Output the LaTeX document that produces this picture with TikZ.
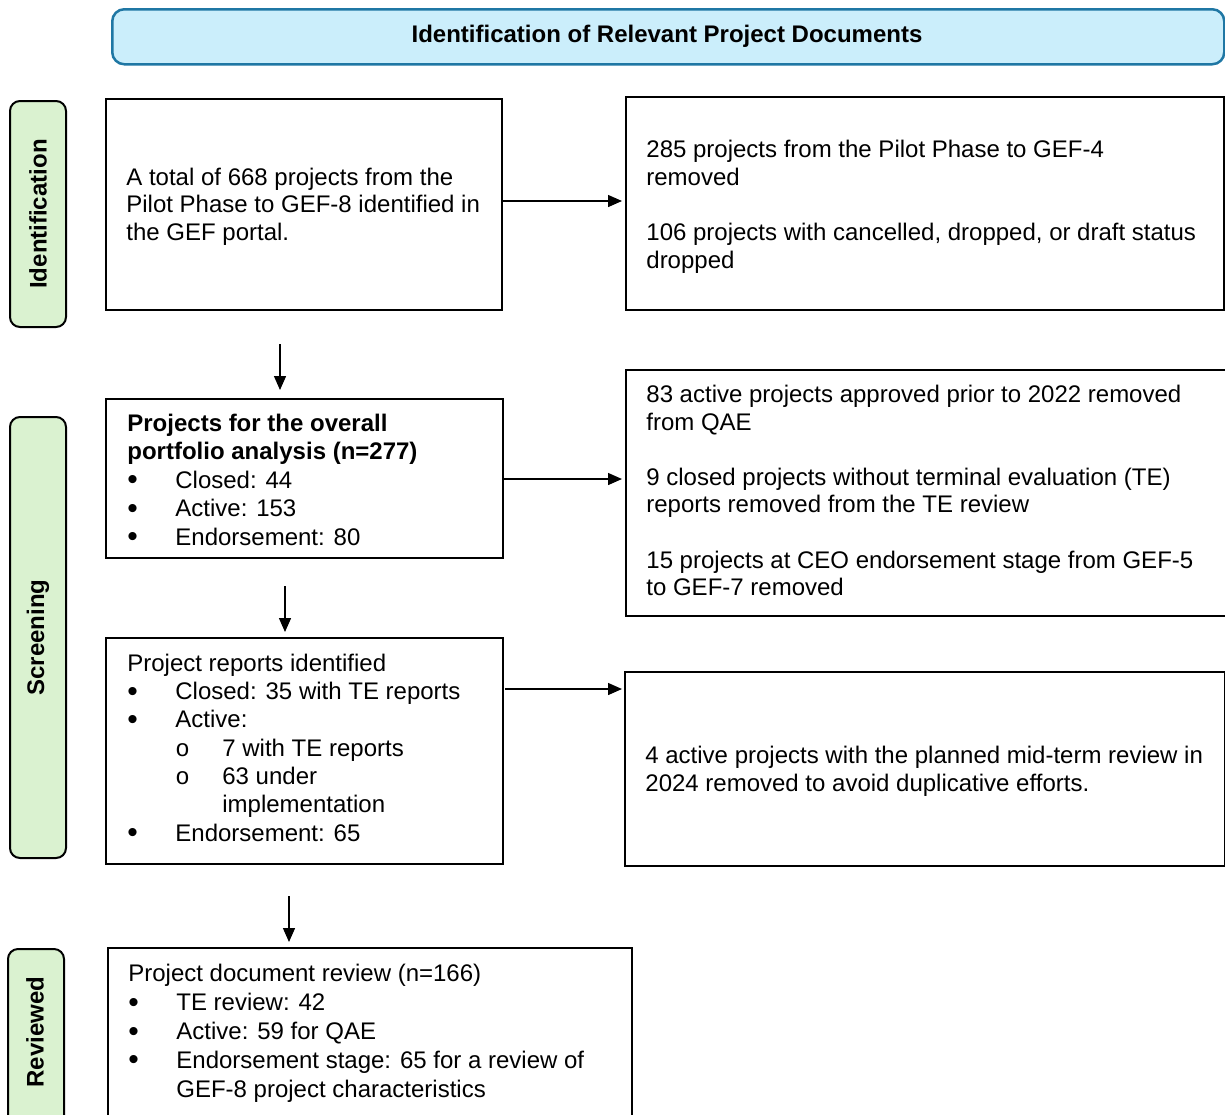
\documentclass[tikz,border=0pt]{standalone}
\usepackage{fontspec}
\setmainfont{Liberation Sans}
\newfontfamily\monof{Liberation Mono}
\usetikzlibrary{arrows.meta,calc}
\definecolor{bannerfill}{HTML}{CBEEFB}
\definecolor{bannerdraw}{HTML}{1F77A4}
\definecolor{sidefill}{HTML}{DAF2D0}
\newcommand\bl{\makebox[24pt][l]{\raisebox{-0.8pt}{\fontsize{15}{14}\selectfont\textbullet}}}
\newcommand\sbl{\hspace*{24pt}\makebox[23.5pt][l]{{\monof\fontsize{12}{12}\selectfont o}}}
\begin{document}
\begin{tikzpicture}[x=0.5pt,y=-0.5pt,
  box/.style={draw=black,line width=1pt,inner sep=0pt,anchor=north west},
  side/.style={draw=black,line width=1pt,fill=sidefill,rounded corners=5pt,inner sep=0pt,anchor=north west},
  txt/.style={anchor=base west,inner sep=0pt,align=left,font=\fontsize{12}{14}\selectfont},
  arr/.style={line width=0.7pt,-{Triangle[length=7pt,width=6pt]}},
  sidetxt/.style={rotate=90,font=\fontsize{12}{14}\selectfont\bfseries,inner sep=0pt}]
\useasboundingbox (0,0) rectangle (1225,1114);
\clip (0,0) rectangle (1225,1114);
% banner
\node[draw=bannerdraw,line width=1.25pt,fill=bannerfill,rounded corners=6pt,inner sep=0pt,anchor=north west,
  minimum width=556pt,minimum height=27.5pt] (ban) at (111,8) {};
\node[font=\fontsize{12}{14}\selectfont\bfseries,inner sep=0pt] (bant) at (667,36) {Identification of Relevant Project Documents};
% side labels
\node[side,minimum width=28pt,minimum height=113pt] (s1) at (9,100) {};
\node[sidetxt] (s1t) at (s1.center) {Identification};
\node[side,minimum width=28pt,minimum height=220.5pt] (s2) at (9,416) {};
\node[sidetxt] (s2t) at (s2.center) {Screening};
\node[side,minimum width=28pt,minimum height=100pt] (s3) at (7,948) {};
\node[sidetxt] (s3t) at (35,1032) {Reviewed};
% boxes
\node[box,minimum width=198pt,minimum height=105.5pt] (A) at (105,98) {};
\node[box,minimum width=299pt,minimum height=106.5pt] (B) at (625,96) {};
\node[box,minimum width=198.5pt,minimum height=79.5pt] (C) at (105,398) {};
\node[box,minimum width=300pt,minimum height=123pt] (D) at (625,369) {};
\node[box,minimum width=198.5pt,minimum height=113pt] (E) at (105,637) {};
\node[box,minimum width=300pt,minimum height=97pt] (F) at (624,671) {};
\node[box,minimum width=262pt,minimum height=100pt] (G) at (107,947) {};
% texts (anchored at the baseline of the last line)
\node[txt,font=\fontsize{12}{13.75}\selectfont] (At) at (126,240) {A total of 668 projects from the\\Pilot Phase to GEF-8 identified in\\the GEF portal.};
\node[txt] (Bt1) at (646,185) {285 projects from the Pilot Phase to GEF-4\\removed};
\node[txt] (Bt2) at (646,268) {106 projects with cancelled, dropped, or draft status\\dropped};
\node[txt,font=\fontsize{12}{14.25}\selectfont] (Ct) at (127,545) {\textbf{Projects for the overall}\\\textbf{portfolio analysis (n=277)}\\\bl Closed: 44\\\bl Active: 153\\\bl Endorsement: 80};
\node[txt] (Dt1) at (646,430) {83 active projects approved prior to 2022 removed\\from QAE};
\node[txt,font=\fontsize{12}{13.5}\selectfont] (Dt2) at (646,512) {9 closed projects without terminal evaluation (TE)\\reports removed from the TE review};
\node[txt,font=\fontsize{12}{13.5}\selectfont] (Dt3) at (646,595) {15 projects at CEO endorsement stage from GEF-5\\to GEF-7 removed};
\node[txt,font=\fontsize{12}{14.15}\selectfont] (Et) at (127,841) {Project reports identified\\\bl Closed: 35 with TE reports\\\bl Active:\\\sbl 7 with TE reports\\\sbl 63 under\\\hspace*{47.5pt}implementation\\\bl Endorsement: 65};
\node[txt] (Ft) at (645,791) {4 active projects with the planned mid-term review in\\2024 removed to avoid duplicative efforts.};
\node[txt,font=\fontsize{12}{14.4}\selectfont] (Gt) at (128,1097) {Project document review (n=166)\\\bl TE review: 42\\\bl Active: 59 for QAE\\\bl Endorsement stage: 65 for a review of\\\hspace*{24pt}GEF-8 project characteristics};
% horizontal arrows
\coordinate (h1) at (501,201);
\draw[arr,shorten >=1.5pt] (h1) -- (h1 -| B.west) ;
\coordinate (h2) at (502,479);
\draw[arr,shorten >=1.5pt] (h2) -- (h2 -| D.west);
\coordinate (h3) at (505,689);
\draw[arr,shorten >=1pt] (h3) -- (h3 -| F.west);
% vertical arrows
\coordinate (v1) at (280,344);
\draw[arr,shorten >=4pt] (v1) -- (v1 |- C.north);
\coordinate (v2) at (285,586);
\draw[arr,shorten >=2.5pt] (v2) -- (v2 |- E.north);
\coordinate (v3) at (289,896);
\draw[arr,shorten >=2.5pt] (v3) -- (v3 |- G.north);
\end{tikzpicture}
\end{document}
